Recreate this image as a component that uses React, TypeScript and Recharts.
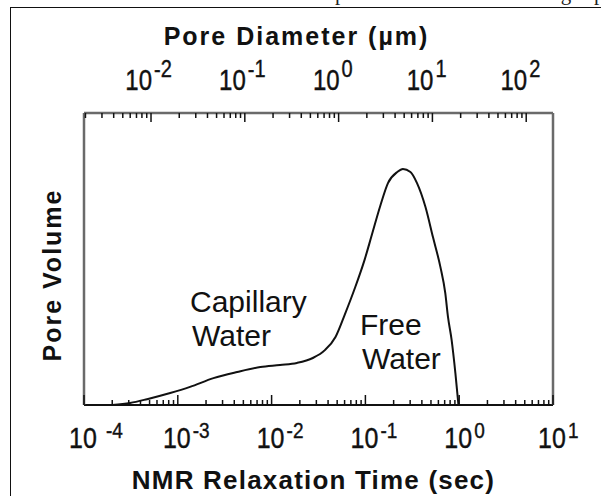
import { LineChart, Line, XAxis, YAxis, ReferenceDot, Label } from 'recharts';

// NMR T2 distribution
const relaxationTimes = [
  2.0e-4, 3.1e-4, 4.7e-4, 8.3e-4, 1.35e-3, 2.4e-3, 4.3e-3, 7.6e-3, 0.0123, 0.0186,
  0.0275, 0.037, 0.048, 0.06, 0.078, 0.098, 0.117, 0.145, 0.174, 0.219,
  0.251, 0.302, 0.355, 0.437, 0.525, 0.63, 0.71, 0.76, 0.83, 0.91, 0.98,
];
const poreVolume = [
  0, 0.007, 0.02, 0.041, 0.062, 0.092, 0.113, 0.13, 0.137, 0.144,
  0.161, 0.188, 0.233, 0.308, 0.404, 0.497, 0.582, 0.685, 0.76, 0.798,
  0.808, 0.798, 0.76, 0.678, 0.575, 0.473, 0.384, 0.301, 0.223, 0.11, 0.003,
];

const t2Decades = [1e-4, 1e-3, 1e-2, 1e-1, 1, 10];
const t2Exponents = ['-4', '-3', '-2', '-1', '0', '1'];
const diameterDecades = [1e-2, 1e-1, 1, 10, 100];
const diameterExponents = ['-2', '-1', '0', '1', '2'];

const annotations = [
  { t: 1.35e-3, v: 0.318, lines: ['Capillary', 'Water'] },
  { t: 0.0875, v: 0.24, lines: ['Free', 'Water'] },
];

// µm of pore diameter per second of T2 (how the two axes line up)
const DIAM_PER_SEC = 19.3;
const T2_DOMAIN = [1e-4, 10];
const DIAM_DOMAIN = [T2_DOMAIN[0] * DIAM_PER_SEC, T2_DOMAIN[1] * DIAM_PER_SEC];

const FONT = '"Liberation Sans", Arial, Helvetica, sans-serif';
const BOX = '#6a6a6a';

const data = relaxationTimes.map((t, i) => ({ t, d: t * DIAM_PER_SEC, volume: poreVolume[i] }));

function logTicks(lo: number, hi: number) {
  const out: number[] = [];
  for (let e = Math.floor(Math.log10(lo)); e <= Math.ceil(Math.log10(hi)); e++) {
    for (let k = 1; k < 10; k++) {
      const v = k * Math.pow(10, e);
      if (v >= lo * 0.999 && v <= hi * 1.001) out.push(v);
    }
  }
  return out;
}

const decadeIndex = (decades: number[], v: number) =>
  decades.findIndex((d) => Math.abs(d - v) / d < 1e-6);

function T2Tick(props: any) {
  const { x, y, payload } = props;
  const idx = decadeIndex(t2Decades, payload.value);
  const major = idx >= 0;
  return (
    <g>
      <line x1={x} x2={x} y1={y} y2={y - (major ? 10 : 5)} stroke="#111" strokeWidth={1.5} />
      {major && (
        <g transform={`translate(${x},${y + 43}) scale(1,1.15)`} fontFamily={FONT} fill="#111"
          stroke="#111" strokeWidth={0.35}>
          <text x={-1} y={0} textAnchor="middle" fontSize={25}>10</text>
          <text x={idx === 0 ? 22 : 15} y={-9} fontSize={19}>{t2Exponents[idx]}</text>
        </g>
      )}
    </g>
  );
}

function DiameterTick(props: any) {
  const { x, y, payload } = props;
  const idx = decadeIndex(diameterDecades, payload.value);
  const major = idx >= 0;
  return (
    <g>
      <line x1={x} x2={x} y1={y} y2={y + (major ? 9 : 5)} stroke="#111" strokeWidth={1.5} />
      {major && (
        <g transform={`translate(${x},${y - 23}) scale(1,1.22)`} fontFamily={FONT} fill="#111"
          stroke="#111" strokeWidth={0.35}>
          <text x={1} y={0} textAnchor="end" fontSize={24}>10</text>
          <text x={3} y={-11} fontSize={20}>{diameterExponents[idx]}</text>
        </g>
      )}
    </g>
  );
}

function TopTitle({ viewBox }: any) {
  return (
    <text x={viewBox.x + viewBox.width / 2 - 22} y={viewBox.y + 45} textAnchor="middle"
      fontFamily={FONT} fontWeight="bold" fontSize={25} letterSpacing={2} fill="#111">
      {'Pore Diameter (\u00b5m)'}
    </text>
  );
}

function BottomTitle({ viewBox }: any) {
  return (
    <text x={viewBox.x + viewBox.width / 2 - 5} y={viewBox.y + 84} textAnchor="middle"
      fontFamily={FONT} fontWeight="bold" fontSize={26} letterSpacing={1.2} fill="#111">
      NMR Relaxation Time (sec)
    </text>
  );
}

function LeftTitle({ viewBox }: any) {
  const cy = viewBox.y + viewBox.height / 2 + 16;
  return (
    <text transform={`translate(${viewBox.x - 22},${cy}) rotate(-90)`} textAnchor="middle"
      fontFamily={FONT} fontWeight="bold" fontSize={25} letterSpacing={2} fill="#111">
      Pore Volume
    </text>
  );
}

function AnnotationText({ viewBox, lines }: any) {
  return (
    <text x={viewBox.x} y={viewBox.y} fontFamily={FONT} fontSize={30} fill="#111">
      {lines.map((l: string, i: number) => (
        <tspan key={l + i} x={viewBox.x + (i ? 2 : 0)} dy={i ? 34 : 0}>{l}</tspan>
      ))}
    </text>
  );
}

export default function App() {
  return (
    <div style={{ position: 'absolute', left: 0, top: 0, width: 601, height: 496, overflow: 'hidden', background: '#fff' }}>
      <div style={{ position: 'absolute', left: 30, top: -19, fontFamily: '"Liberation Serif", serif', fontSize: 21, whiteSpace: 'nowrap', color: '#222' }}>
        and NMR measurements on the sample measured after centrifuge spinning at capillary pressure during drying
      </div>
      <div style={{ position: 'absolute', left: 10, top: 7, width: 700, height: 600, borderLeft: '1.5px solid #111', borderTop: '1.5px solid #111' }} />
      <div style={{ position: 'absolute', left: 0, top: 0 }}>
        <LineChart width={601} height={496} data={data} margin={{ top: 0, right: 47, bottom: 0, left: 83 }}>
          <XAxis xAxisId="t2" dataKey="t" type="number" scale="log" domain={T2_DOMAIN} allowDataOverflow
            orientation="bottom" height={91} ticks={logTicks(T2_DOMAIN[0], T2_DOMAIN[1])} interval={0}
            tickSize={0} tickMargin={0} tickLine={false} tick={<T2Tick />}
            axisLine={{ stroke: '#111', strokeWidth: 2 }}>
            <Label content={<BottomTitle />} />
          </XAxis>
          <XAxis xAxisId="diam" dataKey="d" type="number" scale="log" domain={DIAM_DOMAIN} allowDataOverflow
            orientation="top" height={113} ticks={logTicks(DIAM_DOMAIN[0], DIAM_DOMAIN[1])} interval={0}
            tickSize={0} tickMargin={0} tickLine={false} tick={<DiameterTick />}
            axisLine={{ stroke: BOX, strokeWidth: 2.5 }}>
            <Label content={<TopTitle />} />
          </XAxis>
          <YAxis yAxisId="v" type="number" domain={[0, 1]} allowDataOverflow width={1}
            tick={false} tickLine={false} axisLine={{ stroke: BOX, strokeWidth: 2.5 }}>
            <Label content={<LeftTitle />} />
          </YAxis>
          <YAxis yAxisId="r" orientation="right" type="number" domain={[0, 1]} allowDataOverflow width={1}
            tick={false} tickLine={false} axisLine={{ stroke: BOX, strokeWidth: 2.5 }} />
          {/* carries the pore-diameter axis; drawn invisibly */}
          <Line xAxisId="diam" yAxisId="r" dataKey="volume" type="monotone" stroke="none"
            dot={false} activeDot={false} isAnimationActive={false} />
          <Line xAxisId="t2" yAxisId="v" dataKey="volume" type="monotone" stroke="#111"
            strokeWidth={2} dot={false} isAnimationActive={false} />
          {annotations.map((a) => (
            <ReferenceDot key={a.lines[0]} xAxisId="t2" yAxisId="v" x={a.t} y={a.v} r={0}
              fill="none" stroke="none" ifOverflow="visible"
              label={<AnnotationText lines={a.lines} />} />
          ))}
        </LineChart>
      </div>
    </div>
  );
}
